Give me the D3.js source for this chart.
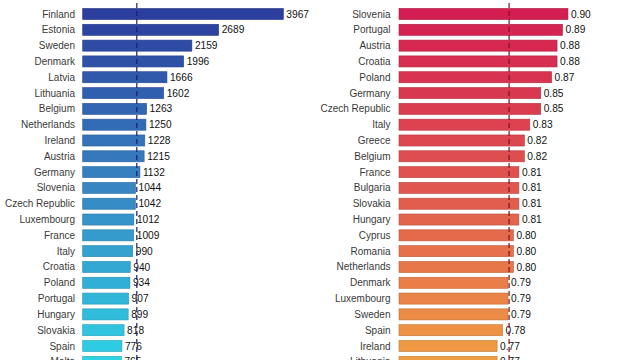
<!DOCTYPE html>
<html>
<head>
<meta charset="utf-8">
<script src="https://cdn.jsdelivr.net/npm/d3@7"></script>
<style>
  html, body { margin: 0; padding: 0; background: #fff; overflow: hidden; }
  svg { display: block; }
  text { font-family: "Liberation Sans", Arial, sans-serif; }
</style>
</head>
<body>
<svg id="chart" width="640" height="360"></svg>
<script>
// Left panel data
const leftCountries = ["Finland","Estonia","Sweden","Denmark","Latvia","Lithuania","Belgium","Netherlands","Ireland","Austria","Germany","Slovenia","Czech Republic","Luxembourg","France","Italy","Croatia","Poland","Portugal","Hungary","Slovakia","Spain","Malta"];
const leftValues = [3967,2689,2159,1996,1666,1602,1263,1250,1228,1215,1132,1044,1042,1012,1009,990,940,934,907,899,818,776,765];
const leftAverage = 1070;

// Right panel data
const rightCountries = ["Slovenia","Portugal","Austria","Croatia","Poland","Germany","Czech Republic","Italy","Greece","Belgium","France","Bulgaria","Slovakia","Hungary","Cyprus","Romania","Netherlands","Denmark","Luxembourg","Sweden","Spain","Ireland","Lithuania"];
const rightValues = [0.90,0.89,0.88,0.88,0.87,0.85,0.85,0.83,0.82,0.82,0.81,0.81,0.81,0.81,0.80,0.80,0.80,0.79,0.79,0.79,0.78,0.77,0.77];
const rightAverage = 0.792;

const svg = d3.select("#chart");

function panel(cfg) {
  const n = cfg.names.length;
  const y = d3.scaleBand().domain(cfg.names).range([6.1, 6.1 + 15.81 * n])
    .paddingInner(0.3).paddingOuter(0.15);
  const x = d3.scaleLinear().domain(cfg.domain).range(cfg.range);
  const color = d3.scaleLinear().domain([0, (n - 1) / 2, n - 1]).range(cfg.colors)
    .interpolate(d3.interpolateRgb);
  const data = cfg.names.map((c, i) => ({ c, v: cfg.values[i], i }));
  const g = svg.append("g");

  g.selectAll("text.lab").data(data).join("text")
    .attr("class", "lab")
    .attr("x", cfg.labelX)
    .attr("y", d => y(d.c) + y.bandwidth() / 2)
    .attr("dy", "0.35em")
    .attr("text-anchor", "end")
    .attr("font-size", 10)
    .attr("fill", "#3a3a3a")
    .text(d => d.c);

  g.selectAll("rect").data(data).join("rect")
    .attr("x", x(cfg.domain[0]))
    .attr("y", d => y(d.c))
    .attr("width", d => x(d.v) - x(cfg.domain[0]))
    .attr("height", y.bandwidth())
    .attr("fill", d => color(d.i))
    .attr("stroke", d => d3.color(color(d.i)).darker(0.6))
    .attr("stroke-width", 0.6);

  g.selectAll("text.val").data(data).join("text")
    .attr("class", "val")
    .attr("x", d => x(d.v) + 3)
    .attr("y", d => y(d.c) + y.bandwidth() / 2)
    .attr("dy", "0.35em")
    .attr("font-size", 10.2)
    .attr("fill", "#111")
    .text(d => cfg.fmt(d.v));

  g.append("line")
    .attr("x1", x(cfg.avg)).attr("x2", x(cfg.avg))
    .attr("y1", 3).attr("y2", 370)
    .attr("stroke", cfg.lineColor)
    .attr("stroke-width", 1.2)
    .attr("stroke-dasharray", "5,3");
}

panel({
  names: leftCountries, values: leftValues, avg: leftAverage,
  domain: [0, 4000], range: [82.7, 82.7 + 0.05057 * 4000],
  colors: ["#2C3F9E", "#3786C3", "#2ED2E5"],
  labelX: 75, lineColor: "#1A1F6E", fmt: d3.format("d")
});

panel({
  names: rightCountries, values: rightValues, avg: rightAverage,
  domain: [0.59, 0.92], range: [399, 399 + 545 * 0.33],
  colors: ["#D41E52", "#E0574F", "#F09E42"],
  labelX: 390.5, lineColor: "#7A1222", fmt: d3.format(".2f")
});
</script>
</body>
</html>
